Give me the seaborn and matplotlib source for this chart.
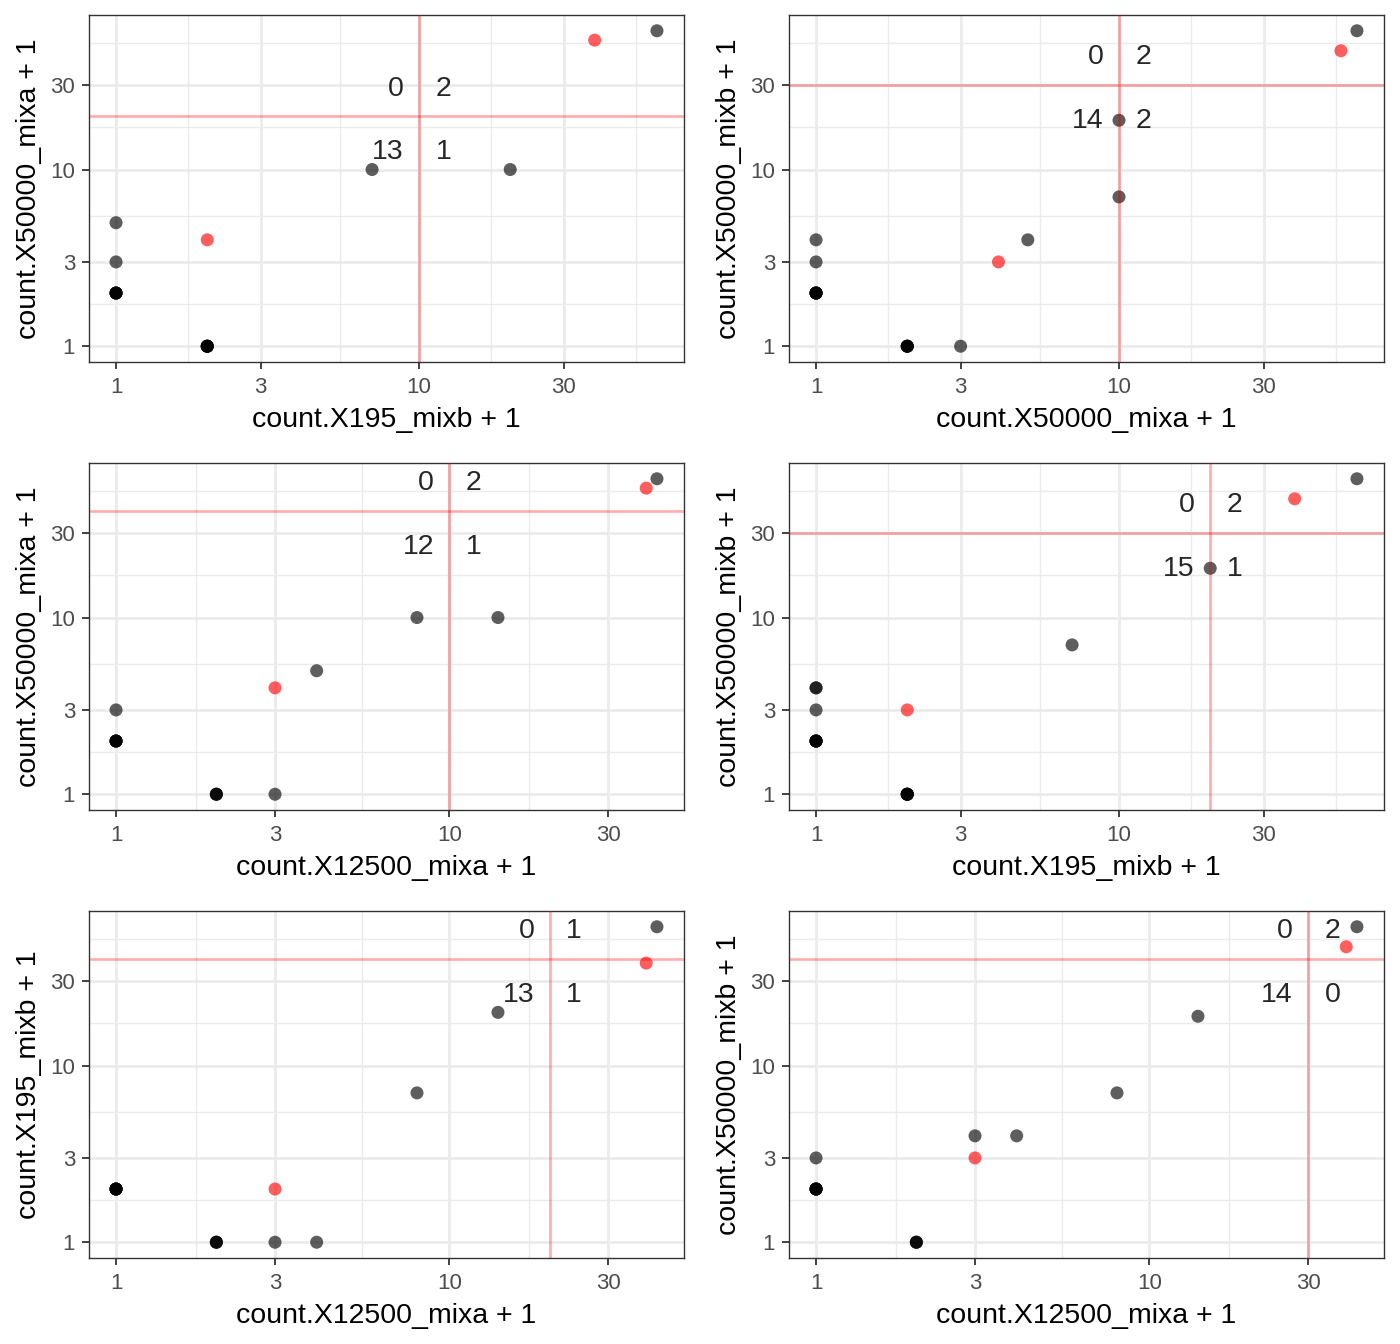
import numpy as np
import pandas as pd
import matplotlib
matplotlib.use("Agg")
import matplotlib.pyplot as plt
import seaborn as sns

# ---- data: raw counts per gene in each sample ----
count_X195_mixb   = [60, 37, 19, 6, 1, 0, 0, 0, 0, 1, 1, 1, 1, 1, 0, 0, 0, 0, 0, 0, 0, 0, 0, 0, 0, 0]
count_X50000_mixa = [60, 53, 9, 9, 3, 4, 2, 0, 0, 0, 0, 0, 0, 0, 1, 1, 1, 1, 0, 0, 0, 0, 0, 0, 0, 0]
count_X12500_mixa = [41, 38, 13, 7, 2, 3, 0, 2, 0, 0, 0, 0, 0, 0, 0, 0, 0, 0, 1, 1, 1, 0, 0, 0, 0, 0]
count_X50000_mixb = [60, 46, 18, 6, 2, 3, 0, 3, 2, 0, 0, 0, 0, 0, 0, 0, 0, 0, 0, 0, 0, 1, 1, 1, 1, 1]
highlighted = [False, True, False, False, True] + [False] * 21

# ---- panels ----
panel_x = ["count.X195_mixb", "count.X50000_mixa", "count.X12500_mixa",
           "count.X195_mixb", "count.X12500_mixa", "count.X12500_mixa"]
panel_y = ["count.X50000_mixa", "count.X50000_mixb", "count.X50000_mixa",
           "count.X50000_mixb", "count.X195_mixb", "count.X50000_mixb"]
x_thresholds = [10, 10, 10, 20, 20, 30]
y_thresholds = [20, 30, 40, 30, 40, 40]
tick_values = [1, 3, 10, 30]
tick_labels = ["1", "3", "10", "30"]

df = pd.DataFrame({
    "count.X195_mixb": np.array(count_X195_mixb) + 1,
    "count.X50000_mixa": np.array(count_X50000_mixa) + 1,
    "count.X12500_mixa": np.array(count_X12500_mixa) + 1,
    "count.X50000_mixb": np.array(count_X50000_mixb) + 1,
    "highlight": highlighted,
})

sns.set_style("white")
plt.rcParams["font.family"] = ["Liberation Sans", "DejaVu Sans"]

W, H = 1400, 1344
fig = plt.figure(figsize=(W / 100, H / 100), dpi=100)

col_left = [89, 789]
row_top = [15, 463, 911]
aw, ah = 595, 347

lt = np.log10(tick_values)
step = lt[1] - lt[0]
ext = np.concatenate([[lt[0] - step], lt, [lt[-1] + step]])
minor = 10 ** ((ext[:-1] + ext[1:]) / 2)


def lims(v):
    lo, hi = np.log10(v.min()), np.log10(v.max())
    d = hi - lo
    return 10 ** (lo - 0.05 * d), 10 ** (hi + 0.05 * d)


grey20 = "#333333"
for i in range(6):
    r, c = divmod(i, 2)
    ax = fig.add_axes([col_left[c] / W, 1 - (row_top[r] + ah) / H, aw / W, ah / H])
    xc, yc = panel_x[i], panel_y[i]
    sub = df[~((df[xc] == 1) & (df[yc] == 1))].reset_index(drop=True)

    sns.scatterplot(data=sub, x=xc, y=yc, hue="highlight",
                    palette={False: "black", True: "red"}, alpha=0.63,
                    s=88, linewidth=0, legend=False, ax=ax, zorder=3)
    ax.set_xscale("log")
    ax.set_yscale("log")

    ax.set_xticks(tick_values)
    ax.set_xticklabels(tick_labels)
    ax.set_yticks(tick_values)
    ax.set_yticklabels(tick_labels)
    ax.set_xticks(minor, minor=True)
    ax.set_yticks(minor, minor=True)
    ax.xaxis.set_minor_formatter(matplotlib.ticker.NullFormatter())
    ax.yaxis.set_minor_formatter(matplotlib.ticker.NullFormatter())
    ax.set_xlim(*lims(sub[xc]))
    ax.set_ylim(*lims(sub[yc]))

    ax.grid(which="major", color="#ebebeb", lw=2.0, zorder=0)
    ax.grid(which="minor", color="#ebebeb", lw=1.0, zorder=0)
    ax.set_axisbelow(True)
    ax.tick_params(which="major", bottom=True, left=True, length=5, width=1.3,
                   color=grey20, labelsize=16, labelcolor="#4d4d4d",
                   direction="out")
    ax.tick_params(axis="x", which="major", pad=5.5)
    ax.tick_params(axis="y", which="major", pad=5)
    ax.tick_params(which="minor", bottom=False, left=False, length=0)
    for sp in ax.spines.values():
        sp.set_color(grey20)
        sp.set_linewidth(1.0)
        sp.set_visible(True)

    ax.set_xlabel(xc + " + 1", fontsize=20.5, color="black", labelpad=6.5)
    ax.set_ylabel(yc + " + 1", fontsize=20.5, color="black", labelpad=6)

    xt, yt = x_thresholds[i], y_thresholds[i]
    ax.axvline(xt, color="red", alpha=0.32, lw=1.9, zorder=4)
    ax.axhline(yt, color="red", alpha=0.32, lw=1.9, zorder=4)

    xs, ys = sub[xc], sub[yc]
    n_tl = int(((xs < xt) & (ys >= yt)).sum())
    n_tr = int(((xs >= xt) & (ys >= yt)).sum())
    n_bl = int(((xs < xt) & (ys < yt)).sum())
    n_br = int(((xs >= xt) & (ys < yt)).sum())
    kw = dict(xy=(xt, yt), textcoords="offset points", fontsize=20.5, va="center", zorder=5)
    ax.annotate(str(n_tl), xytext=(-11, 20), ha="right", **kw)
    ax.annotate(str(n_tr), xytext=(12, 20), ha="left", **kw)
    ax.annotate(str(n_bl), xytext=(-11, -25.5), ha="right", **kw)
    ax.annotate(str(n_br), xytext=(12, -25.5), ha="left", **kw)

fig.savefig("out.png", dpi=100)
